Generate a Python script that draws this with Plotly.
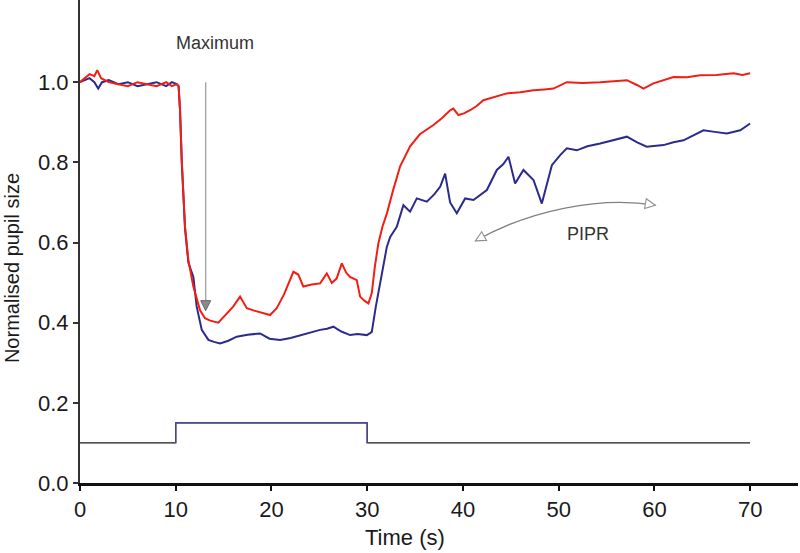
import plotly.graph_objects as go

# ---- data ----
t_red = [0, 0.5, 1.0, 1.5, 1.8, 2.2, 2.6, 3, 4, 5, 6, 7, 8, 9, 9.6, 10.1, 10.3, 10.45, 10.63, 10.97,
         11.32, 11.84, 12.54, 13.06, 13.6, 14.45, 15.2, 16.0, 16.72, 17.42, 18.2, 19.0, 19.85, 20.55,
         21.3, 22.29, 22.8, 23.33, 24.2, 25.08, 25.78, 26.3, 26.8, 27.35, 27.8, 28.21, 28.91, 29.26,
         29.7, 30.13, 30.48, 30.8, 31.17, 31.6, 32.05, 32.7, 33.44, 34.48, 35.5, 36.92, 37.8, 38.66,
         39.0, 39.53, 40.1, 40.75, 41.4, 42.14, 43.3, 44.58, 46.0, 47.37, 48.5, 49.46, 50.85, 52.5,
         54.34, 55.7, 57.13, 58.17, 58.86, 59.9, 61.0, 62.0, 63.4, 64.79, 66.5, 68.27, 69.2, 70.0]
red = [1.00, 1.01, 1.02, 1.015, 1.03, 1.01, 1.005, 1.0, 0.995, 0.99, 1.0, 0.995, 0.99, 1.0, 0.99,
       0.995, 0.99, 0.93, 0.805, 0.639, 0.556, 0.49, 0.431, 0.411, 0.405, 0.40, 0.42, 0.44, 0.465,
       0.436, 0.43, 0.425, 0.419, 0.436, 0.47, 0.527, 0.52, 0.49, 0.495, 0.498, 0.523, 0.499, 0.51,
       0.548, 0.525, 0.514, 0.506, 0.465, 0.455, 0.448, 0.474, 0.54, 0.598, 0.64, 0.672, 0.73, 0.79,
       0.84, 0.87, 0.893, 0.91, 0.93, 0.934, 0.918, 0.922, 0.93, 0.94, 0.955, 0.963, 0.972, 0.975,
       0.98, 0.982, 0.984, 1.0, 0.998, 1.0, 1.003, 1.005, 0.993, 0.984, 0.997, 1.005, 1.013, 1.012,
       1.017, 1.018, 1.022, 1.018, 1.022]

t_blue = [0, 0.5, 1.0, 1.5, 1.9, 2.3, 3, 4, 5, 6, 7, 8, 9, 9.6, 10.1, 10.3, 10.45, 10.63, 10.97, 11.32,
          11.84, 12.19, 12.72, 13.41, 14.0, 14.63, 15.5, 16.37, 17.5, 18.81, 19.8, 20.9, 22.0, 22.99,
          24.0, 25.08, 25.8, 26.47, 27.3, 28.21, 29.0, 29.96, 30.3, 30.48, 30.9, 31.35, 32.05, 32.4,
          33.09, 33.78, 34.48, 35.18, 36.23, 37.0, 37.62, 38.14, 38.66, 39.36, 40.23, 41.1, 42.5, 43.54,
          44.2, 44.76, 45.45, 46.32, 47.37, 48.24, 49.29, 50.16, 50.85, 51.9, 53.0, 54.34, 55.7, 57.13,
          58.2, 59.2, 60.95, 62.0, 63.04, 64.0, 65.13, 66.3, 67.57, 68.97, 70.0]
blue = [1.00, 1.005, 1.01, 1.0, 0.984, 1.0, 1.005, 0.995, 1.0, 0.99, 0.995, 1.0, 0.99, 1.0, 0.995,
        0.99, 0.93, 0.80, 0.635, 0.55, 0.514, 0.44, 0.382, 0.357, 0.352, 0.348, 0.355, 0.365, 0.37,
        0.373, 0.36, 0.357, 0.362, 0.369, 0.375, 0.382, 0.385, 0.39, 0.378, 0.369, 0.372, 0.369, 0.374,
        0.377, 0.44, 0.498, 0.589, 0.614, 0.639, 0.693, 0.677, 0.71, 0.702, 0.72, 0.739, 0.772, 0.70,
        0.673, 0.71, 0.706, 0.731, 0.781, 0.795, 0.814, 0.747, 0.781, 0.756, 0.697, 0.793, 0.818, 0.835,
        0.83, 0.84, 0.847, 0.855, 0.864, 0.85, 0.839, 0.843, 0.85, 0.855, 0.866, 0.88, 0.876, 0.872,
        0.88, 0.897]

stim_t = [0, 10, 10, 30, 30, 70]
stim_v = [0.1, 0.1, 0.15, 0.15, 0.1, 0.1]
pulse_t = [10, 10, 30, 30]
pulse_v = [0.1, 0.15, 0.15, 0.1]

x_ticks = [0, 10, 20, 30, 40, 50, 60, 70]
y_ticks = [0.0, 0.2, 0.4, 0.6, 0.8, 1.0]

FONT = "Arial, Liberation Sans, sans-serif"

fig = go.Figure()
fig.add_trace(go.Scatter(x=stim_t, y=stim_v, mode="lines",
                         line=dict(color="#1a1a1a", width=1.3), showlegend=False))
fig.add_trace(go.Scatter(x=pulse_t, y=pulse_v, mode="lines",
                         line=dict(color="#4a4a9e", width=1.3), showlegend=False))
fig.add_trace(go.Scatter(x=t_blue, y=blue, mode="lines",
                         line=dict(color="#2b2b8f", width=2), showlegend=False))
fig.add_trace(go.Scatter(x=t_red, y=red, mode="lines",
                         line=dict(color="#f21e14", width=2), showlegend=False))

shapes = [
    # Maximum arrow shaft
    dict(type="line", xref="x", yref="y", x0=13.13, x1=13.13, y0=1.0, y1=0.455,
         line=dict(color="#a0a0a0", width=1.3)),
    # Maximum arrow head (filled)
    dict(type="path", xref="x", yref="y", xsizemode="pixel", ysizemode="pixel",
         xanchor=13.13, yanchor=0.43, path="M 0,0 L -5,10 L 5,10 Z",
         fillcolor="#8a8a8a", line=dict(color="#666666", width=1)),
    # PIPR curved arrow
    dict(type="path", xref="x", yref="y",
         path="M 41.3,0.604 C 47.0,0.681 54.3,0.716 60.1,0.693",
         line=dict(color="#808080", width=1.3)),
    dict(type="path", xref="x", yref="y", xsizemode="pixel", ysizemode="pixel",
         xanchor=60.1, yanchor=0.693, path="M 0,0 L -9.1,6.5 L -10.7,-3.3 Z",
         fillcolor="white", line=dict(color="#909090", width=1.1)),
    dict(type="path", xref="x", yref="y", xsizemode="pixel", ysizemode="pixel",
         xanchor=41.3, yanchor=0.604, path="M 0,0 L 11.2,0.5 L 6.3,9.2 Z",
         fillcolor="white", line=dict(color="#909090", width=1.1)),
]

annotations = [
    dict(text="Maximum", x=14.1, y=1.097, xref="x", yref="y", showarrow=False,
         font=dict(family=FONT, size=18, color="#333333")),
    dict(text="PIPR", x=53.1, y=0.621, xref="x", yref="y", showarrow=False,
         font=dict(family=FONT, size=18, color="#333333")),
    dict(text="Time (s)", x=0.4526, y=-0.112, xref="paper", yref="paper", showarrow=False,
         xanchor="center", yanchor="middle", font=dict(family=FONT, size=22, color="#1a1a1a")),
    dict(text="Normalised pupil size", x=-0.0947, y=0.445, xref="paper", yref="paper",
         showarrow=False, textangle=-90, xanchor="center", yanchor="middle",
         font=dict(family=FONT, size=20, color="#1a1a1a")),
]

fig.update_layout(
    width=800, height=553,
    margin=dict(l=80, r=2, t=0, b=70),
    plot_bgcolor="white", paper_bgcolor="white",
    shapes=shapes, annotations=annotations,
    showlegend=False,
)
fig.update_xaxes(range=[0, 75], tickvals=x_ticks, ticktext=[str(v) for v in x_ticks],
                 showgrid=False, zeroline=False, showline=True, linecolor="#111111", linewidth=3,
                 ticks="outside", ticklen=5, tickcolor="#111111", tickwidth=1.5,
                 tickfont=dict(family=FONT, size=22, color="#1a1a1a"))
fig.update_yaxes(range=[0, 1.205], tickvals=y_ticks, ticktext=[f"{v:.1f}" for v in y_ticks],
                 showgrid=False, zeroline=False, showline=True, linecolor="#333333", linewidth=2,
                 ticks="outside", ticklen=5, tickcolor="#333333", tickwidth=1.5,
                 tickfont=dict(family=FONT, size=22, color="#1a1a1a"))

fig.write_html("out.html", config={"displayModeBar": False},
               post_script="document.body.style.margin='0px';document.body.style.overflow='hidden';")
